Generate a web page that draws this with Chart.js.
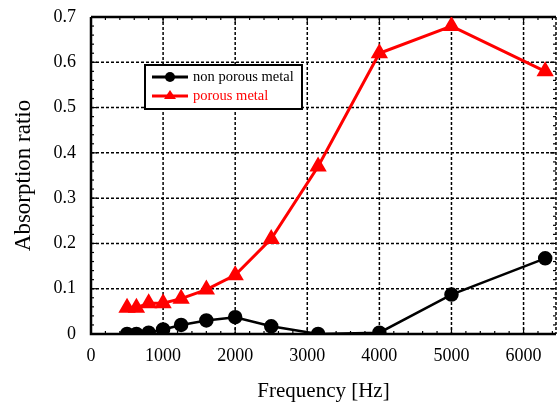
<!DOCTYPE html>
<html>
<head>
<meta charset="utf-8">
<script src="https://cdn.jsdelivr.net/npm/chart.js@4"></script>
<style>
  body { margin: 0; background: #fff; }
  #wrap { width: 557px; height: 403px; }
</style>
</head>
<body>
<div id="wrap"><canvas id="myChart"></canvas></div>
<script>
// frequencies in Hz (1/3 octave bands)
const freqs = [500, 630, 800, 1000, 1250, 1600, 2000, 2500, 3150, 4000, 5000, 6300];
const nonPorous = [0.0, 0.0, 0.003, 0.01, 0.02, 0.03, 0.037, 0.017, 0.0, 0.003, 0.087, 0.167];
const porous = [0.058, 0.058, 0.068, 0.068, 0.078, 0.098, 0.13, 0.21, 0.37, 0.62, 0.68, 0.58];
const xTicks = [0, 1000, 2000, 3000, 4000, 5000, 6000];
const yTicks = [0, 0.1, 0.2, 0.3, 0.4, 0.5, 0.6, 0.7];
const seriesNames = ['non porous metal', 'porous metal'];

const serif = '"Liberation Serif", "Times New Roman", serif';

function toPoints(ys) {
    return freqs.map((f, i) => ({ x: f, y: ys[i] }));
}

// dashed grid, frame and small inward ticks
const framePlugin = {
    id: 'frame',
    beforeDatasetsDraw(chart) {
        const { ctx, chartArea: a, scales: { x, y } } = chart;
        ctx.save();
        ctx.strokeStyle = '#000';
        ctx.lineWidth = 1.5;
        ctx.setLineDash([3, 2]);
        xTicks.forEach(v => {
            const px = x.getPixelForValue(v);
            if (px <= a.left + 1) return;
            ctx.beginPath(); ctx.moveTo(px, a.top); ctx.lineTo(px, a.bottom); ctx.stroke();
        });
        yTicks.forEach(v => {
            const py = y.getPixelForValue(v);
            if (py >= a.bottom - 1 || py <= a.top + 1) return;
            ctx.beginPath(); ctx.moveTo(a.left, py); ctx.lineTo(a.right, py); ctx.stroke();
        });
        ctx.setLineDash([]);
        ctx.lineWidth = 1.2;
        // minor ticks
        for (let v = 0; v <= 6400; v += 200) {
            const px = x.getPixelForValue(v);
            const len = (v % 1000 === 0) ? 6 : 3;
            ctx.beginPath(); ctx.moveTo(px, a.bottom); ctx.lineTo(px, a.bottom - len); ctx.stroke();
            ctx.beginPath(); ctx.moveTo(px, a.top); ctx.lineTo(px, a.top + len); ctx.stroke();
        }
        for (let k = 0; k <= 35; k++) {
            const py = y.getPixelForValue(k * 0.02);
            const len = (k % 5 === 0) ? 6 : 3;
            ctx.beginPath(); ctx.moveTo(a.left, py); ctx.lineTo(a.left + len, py); ctx.stroke();
            ctx.beginPath(); ctx.moveTo(a.right, py); ctx.lineTo(a.right - len, py); ctx.stroke();
        }
        ctx.lineWidth = 2.5;
        ctx.beginPath();
        ctx.moveTo(a.left, a.top); ctx.lineTo(a.left, a.bottom); ctx.lineTo(a.right, a.bottom);
        ctx.moveTo(a.left, a.top); ctx.lineTo(a.right, a.top);
        ctx.stroke();
        ctx.lineWidth = 1.5;
        ctx.setLineDash([3, 2]);
        ctx.beginPath(); ctx.moveTo(a.right, a.top); ctx.lineTo(a.right, a.bottom); ctx.stroke();
        ctx.restore();
    },
    afterDraw(chart) {
        // legend box inside plot
        const { ctx } = chart;
        const bx = 145, by = 65, bw = 157, bh = 44;
        ctx.save();
        ctx.fillStyle = '#fff';
        ctx.fillRect(bx, by, bw, bh);
        ctx.strokeStyle = '#000';
        ctx.lineWidth = 2;
        ctx.strokeRect(bx, by, bw, bh);
        const rows = [
            { y: 77, color: '#000', name: seriesNames[0], shape: 'circle' },
            { y: 96, color: '#ff0000', name: seriesNames[1], shape: 'triangle' }
        ];
        rows.forEach(r => {
            ctx.strokeStyle = r.color;
            ctx.fillStyle = r.color;
            ctx.lineWidth = 3;
            ctx.beginPath(); ctx.moveTo(152, r.y); ctx.lineTo(188, r.y); ctx.stroke();
            ctx.beginPath();
            if (r.shape === 'circle') {
                ctx.arc(170, r.y, 5, 0, Math.PI * 2);
            } else {
                ctx.moveTo(170, r.y - 6); ctx.lineTo(176, r.y + 3); ctx.lineTo(164, r.y + 3); ctx.closePath();
            }
            ctx.fill();
            ctx.font = '14.5px ' + serif;
            ctx.textBaseline = 'middle';
            ctx.fillText(r.name, 193, r.y);
        });
        ctx.restore();
    }
};

const ctx = document.getElementById('myChart').getContext('2d');
new Chart(ctx, {
    type: 'scatter',
    data: {
        datasets: [{
            label: seriesNames[0],
            data: toPoints(nonPorous),
            showLine: true,
            borderColor: '#000',
            backgroundColor: '#000',
            borderWidth: 2.5,
            pointStyle: 'circle',
            pointRadius: 6,
            pointHoverRadius: 6
        }, {
            label: seriesNames[1],
            data: toPoints(porous),
            showLine: true,
            borderColor: '#ff0000',
            backgroundColor: '#ff0000',
            borderWidth: 3,
            pointStyle: 'triangle',
            pointRadius: 7,
            pointHoverRadius: 7
        }]
    },
    options: {
        responsive: true,
        maintainAspectRatio: false,
        animation: false,
        layout: { autoPadding: false, padding: { top: 17, right: 1, left: 0, bottom: 0 } },
        plugins: { legend: { display: false }, tooltip: { enabled: false } },
        scales: {
            x: {
                type: 'linear',
                min: 0,
                max: 6450,
                afterBuildTicks: s => { s.ticks = xTicks.map(v => ({ value: v })); },
                afterFit: s => { s.height = 69; s.paddingLeft = 0; s.paddingRight = 0; },
                grid: { display: false, drawTicks: false },
                border: { display: false },
                ticks: { color: '#000', padding: 11, font: { family: serif, size: 18 },
                    callback: v => String(v) },
                title: { display: true, text: 'Frequency [Hz]', color: '#000', font: { family: serif, size: 21 }, padding: { top: 4, bottom: -1 } }
            },
            y: {
                min: 0,
                max: 0.7,
                afterBuildTicks: s => { s.ticks = yTicks.map(v => ({ value: v })); },
                afterFit: s => { s.width = 91; s.paddingTop = 0; s.paddingBottom = 0; },
                grid: { display: false, drawTicks: false },
                border: { display: false },
                ticks: { color: '#000', padding: 15, font: { family: serif, size: 18 },
                    callback: v => v === 0 ? '0' : v.toFixed(1) },
                title: { display: true, text: 'Absorption ratio', color: '#000', font: { family: serif, size: 23 }, padding: { bottom: 0, top: 10 } }
            }
        }
    },
    plugins: [framePlugin]
});
</script>
</body>
</html>
